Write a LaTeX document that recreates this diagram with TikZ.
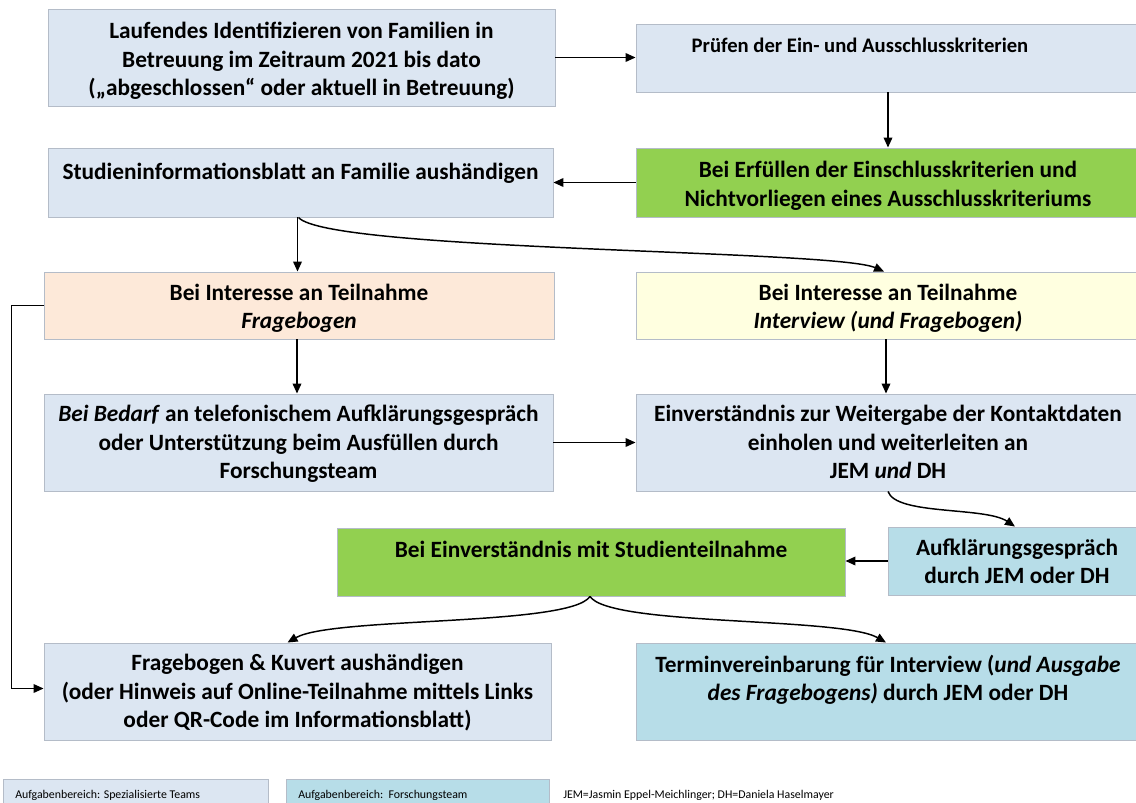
\documentclass[tikz,border=0pt]{standalone}
\usepackage{fontspec}
\setmainfont{Carlito}
\usetikzlibrary{arrows.meta,fit,calc}
\definecolor{cGray}{HTML}{DCE6F2}
\definecolor{cGreen}{HTML}{92D050}
\definecolor{cPeach}{HTML}{FDE9D9}
\definecolor{cYellow}{HTML}{FFFFE0}
\definecolor{cAqua}{HTML}{B7DDE8}
\definecolor{cBorder}{HTML}{B4BCC8}
\begin{document}
\begin{tikzpicture}[x=0.75pt,y=-0.75pt,
  box/.style={draw=cBorder, line width=0.7pt, inner sep=0pt, rectangle},
  txt/.style={font=\bfseries\fontsize{17.5}{21.4}\selectfont, align=center, inner sep=0pt, anchor=north, execute at begin node=\strut},
  arr/.style={draw=black, line width=1.1pt, -{Triangle[length=7.5pt,width=6.5pt]}},
  legtxt/.style={font=\fontsize{8.9}{10}\selectfont, inner sep=0pt, anchor=base west}]
\fill[white] (0,0) rectangle (1136,803);
\useasboundingbox (0,0) rectangle (1136,803);

% boxes
\node[box, fill=cGray, fit={(48,9)(555,106)}] (b1) {};
\node[txt] (t1) at ([yshift=-10pt]b1.north) {Laufendes Identifizieren von Familien in\\Betreuung im Zeitraum 2021 bis dato\\(„abgeschlossen“ oder aktuell in Betreuung)};

\node[box, fill=cGray, fit={(636,24)(1140,92)}] (b2) {};
\node[txt, font=\bfseries\fontsize{15.5}{21.4}\selectfont] (t2) at ($(860,24)+(0,8)$) {Prüfen der Ein- und Ausschlusskriterien};

\node[box, fill=cGray, fit={(48,148)(553,217)}] (b3) {};
\node[txt] (t3) at ([yshift=-9pt]b3.north) {Studieninformationsblatt an Familie aushändigen};

\node[box, fill=cGreen, fit={(636,148)(1140,217)}] (b4) {};
\node[txt] (t4) at ([yshift=-10pt]b4.north) {Bei Erfüllen der Einschlusskriterien und\\Nichtvorliegen eines Ausschlusskriteriums};

\node[box, fill=cPeach, fit={(44,272)(554,339)}] (b5) {};
\node[txt] (t5) at ([yshift=-9pt]b5.north) {Bei Interesse an Teilnahme\\\textit{Fragebogen}};

\node[box, fill=cYellow, fit={(636,272)(1140,339)}] (b6) {};
\node[txt] (t6) at ([yshift=-9pt]b6.north) {Bei Interesse an Teilnahme\\\textit{Interview (und Fragebogen)}};

\node[box, fill=cGray, fit={(44,394)(553,491)}] (b7) {};
\node[txt] (t7) at ([yshift=-8.5pt]b7.north) {\textit{Bei Bedarf} an telefonischem Aufklärungsgespräch\\oder Unterstützung beim Ausfüllen durch\\Forschungsteam};

\node[box, fill=cGray, fit={(636,394)(1140,491)}] (b8) {};
\node[txt] (t8) at ([yshift=-8.5pt]b8.north) {Einverständnis zur Weitergabe der Kontaktdaten\\einholen und weiterleiten an\\JEM \textit{und} DH};

\node[box, fill=cGreen, fit={(337,528)(845,596)}] (b9) {};
\node[txt] (t9) at ([yshift=-7.5pt]b9.north) {Bei Einverständnis mit Studienteilnahme};

\node[box, fill=cAqua, fit={(888,527)(1146,595)}] (b10) {};
\node[txt] (t10) at ([yshift=-9pt]b10.north) {Aufklärungsgespräch\\durch JEM oder DH};

\node[box, fill=cGray, fit={(44,643)(551,740)}] (b11) {};
\node[txt] (t11) at ([yshift=-8.5pt]b11.north) {Fragebogen \& Kuvert aushändigen\\(oder Hinweis auf Online-Teilnahme mittels Links\\oder QR-Code im Informationsblatt)};

\node[box, fill=cAqua, fit={(636,643)(1140,740)}] (b12) {};
\node[txt] (t12) at ([yshift=-9pt]b12.north) {Terminvereinbarung für Interview (\textit{und Ausgabe}\\\textit{des Fragebogens)} durch JEM oder DH};

% legend
\node[box, fill=cGray, fit={(3,779)(268,808)}] (l1) {};
\node[legtxt] (l1t) at (15,798) {Aufgabenbereich: Spezialisierte Teams};
\node[box, fill=cAqua, fit={(286,779)(549,808)}] (l2) {};
\node[legtxt] (l2t) at (298,798) {Aufgabenbereich:\ \ Forschungsteam};
\node[legtxt] (l3t) at (563,798) {JEM=Jasmin Eppel-Meichlinger; DH=Daniela Haselmayer};

% connectors
\draw[arr] (b1.east) -- (b1.east -| b2.west);
\draw[arr] (b2.south) -- (b4.north);
\draw[arr] (b4.west) -- (b4.west -| b3.east);
\draw[arr] ($(b3.south)+(-3,0)$) -- ($(b3.south |- b5.north)+(-3,0)$);
\draw[arr] ($(b3.south)+(-2,0)$) .. controls +(30,34) and +(-50,-22) .. ($(b6.north)+(-4,0)$);
\draw[arr] ($(b5.south)+(-2,0)$) -- ($(b5.south |- b7.north)+(-2,0)$);
\draw[arr] ($(b6.south)+(-2,0)$) -- ($(b8.north)+(-2,0)$);
\draw[arr] (b7.east) -- (b7.east -| b8.west);
\draw[arr] (b8.south) .. controls +(8,24) and +(-30,-20) .. ($(b10.north)+(-2,0)$);
\draw[arr] (b10.west) -- (b10.west -| b9.east);
\draw[arr] ($(b9.south)+(-1,0)$) .. controls +(-20,30) and +(45,-26) .. ($(b11.north)+(-10,0)$);
\draw[arr] ($(b9.south)+(-1,0)$) .. controls +(20,30) and +(-45,-26) .. ($(b12.north)+(-2,0)$);
\draw[arr] (b5.west) -- ++(-32,0) |- ($(b11.west)+(0,-3)$);
\end{tikzpicture}
\end{document}
